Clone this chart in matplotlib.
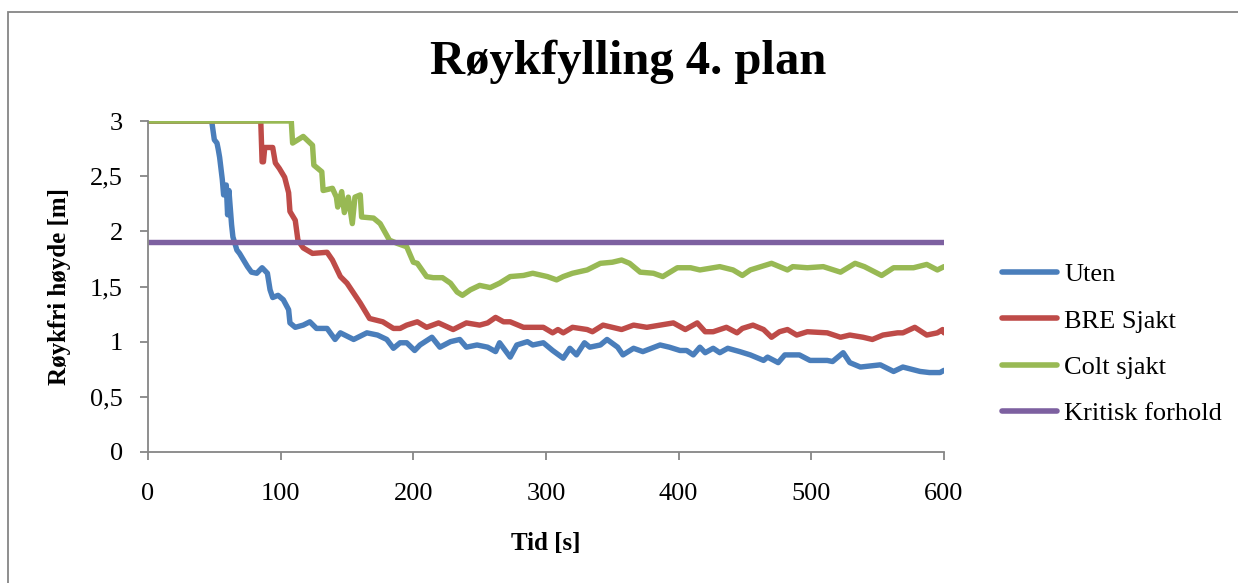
import matplotlib
matplotlib.use("Agg")
import matplotlib.pyplot as plt
from matplotlib.patches import Rectangle

# Smoke-free height [m] over time [s] for three cases, 4th floor
uten_t = [0, 48, 50, 52, 53, 54, 56, 57, 59, 60, 61, 63, 64, 67, 69, 72, 75, 78, 82, 86, 90,
          92, 94, 98, 102, 106, 107, 111, 117, 122, 127, 135, 141, 145, 155, 165, 173, 180,
          185, 190, 195, 201, 205, 214, 220, 228, 235, 240, 248, 256, 262, 265, 273, 278, 286,
          290, 298, 305, 313, 318, 323, 329, 333, 341, 346, 354, 358, 366, 373, 386, 393, 401,
          406, 411, 416, 420, 426, 431, 437, 446, 454, 464, 467, 475, 480, 491, 499, 512, 516,
          524, 529, 537, 552, 562, 569, 582, 589, 597, 600]
uten_h = [3.0, 3.0, 2.83, 2.80, 2.74, 2.67, 2.47, 2.33, 2.42, 2.15, 2.37, 2.06, 1.95, 1.83, 1.80,
          1.74, 1.68, 1.63, 1.62, 1.67, 1.62, 1.47, 1.40, 1.42, 1.38, 1.29, 1.17, 1.13, 1.15, 1.18,
          1.12, 1.12, 1.02, 1.08, 1.02, 1.08, 1.06, 1.02, 0.94, 0.99, 0.99, 0.92, 0.97, 1.04, 0.95,
          1.00, 1.02, 0.95, 0.97, 0.95, 0.91, 0.99, 0.86, 0.97, 1.00, 0.97, 0.99, 0.92, 0.85, 0.94,
          0.88, 0.99, 0.95, 0.97, 1.02, 0.95, 0.88, 0.94, 0.91, 0.97, 0.95, 0.92, 0.92, 0.88, 0.95,
          0.90, 0.94, 0.90, 0.94, 0.91, 0.88, 0.83, 0.86, 0.81, 0.88, 0.88, 0.83, 0.83, 0.82, 0.90,
          0.81, 0.77, 0.79, 0.73, 0.77, 0.73, 0.72, 0.72, 0.74]

bre_t = [0, 85, 86, 87, 88, 94, 96, 99, 103, 106, 107, 111, 113, 117, 124, 135, 139, 145, 150,
         155, 160, 167, 177, 185, 190, 195, 203, 210, 219, 230, 240, 250, 256, 262, 268, 273, 283,
         290, 298, 305, 309, 313, 320, 331, 335, 343, 350, 357, 366, 376, 386, 396, 405, 414, 420,
         426, 436, 444, 448, 456, 464, 470, 476, 482, 489, 497, 512, 522, 529, 539, 546, 554, 565,
         569, 578, 587, 595, 599, 600]
bre_h = [3.0, 3.0, 2.63, 2.63, 2.76, 2.76, 2.62, 2.57, 2.49, 2.35, 2.18, 2.10, 1.92, 1.85, 1.80,
         1.81, 1.74, 1.59, 1.53, 1.44, 1.35, 1.21, 1.18, 1.12, 1.12, 1.15, 1.18, 1.13, 1.17, 1.11,
         1.17, 1.15, 1.17, 1.22, 1.18, 1.18, 1.13, 1.13, 1.13, 1.08, 1.11, 1.08, 1.13, 1.11, 1.09,
         1.15, 1.13, 1.11, 1.15, 1.13, 1.15, 1.17, 1.11, 1.17, 1.09, 1.09, 1.13, 1.08, 1.12, 1.15,
         1.11, 1.04, 1.09, 1.11, 1.06, 1.09, 1.08, 1.04, 1.06, 1.04, 1.02, 1.06, 1.08, 1.08, 1.13,
         1.06, 1.08, 1.11, 1.08]

colt_t = [0, 108, 109, 117, 124, 125, 131, 132, 139, 142, 143, 146, 148, 151, 154, 156, 160, 161,
          170, 175, 182, 188, 195, 200, 203, 210, 215, 222, 228, 233, 237, 243, 250, 258, 265, 273,
          283, 290, 301, 308, 313, 320, 331, 341, 350, 357, 363, 371, 381, 388, 399, 409, 416, 431,
          441, 448, 454, 470, 482, 486, 497, 509, 522, 533, 540, 553, 562, 577, 587, 595, 600]
colt_h = [3.0, 3.0, 2.80, 2.86, 2.78, 2.60, 2.54, 2.37, 2.39, 2.31, 2.22, 2.36, 2.17, 2.31, 2.07,
          2.31, 2.33, 2.13, 2.12, 2.07, 1.92, 1.89, 1.86, 1.72, 1.71, 1.59, 1.58, 1.58, 1.53, 1.45,
          1.42, 1.47, 1.51, 1.49, 1.53, 1.59, 1.60, 1.62, 1.59, 1.56, 1.59, 1.62, 1.65, 1.71, 1.72,
          1.74, 1.71, 1.63, 1.62, 1.59, 1.67, 1.67, 1.65, 1.68, 1.65, 1.60, 1.65, 1.71, 1.65, 1.68,
          1.67, 1.68, 1.63, 1.71, 1.68, 1.60, 1.67, 1.67, 1.70, 1.65, 1.68]

kritisk_t = [0, 600]
kritisk_h = [1.9, 1.9]

series_labels = ["Uten", "BRE Sjakt", "Colt sjakt", "Kritisk forhold"]
series_colors = ["#4A7EBB", "#BE4B48", "#98B954", "#7D60A0"]

x_ticks = [0, 100, 200, 300, 400, 500, 600]
y_ticks = [0, 0.5, 1, 1.5, 2, 2.5, 3]
y_tick_labels = ["0", "0,5", "1", "1,5", "2", "2,5", "3"]

plt.rcParams["font.family"] = ["Liberation Serif", "DejaVu Serif"]

W, H = 1238, 583
fig = plt.figure(figsize=(W / 100, H / 100), dpi=100)
fig.patch.set_facecolor("white")

# chart border
fig.patches.append(Rectangle((8 / W, -0.05), 1.2, 1 - 12 / H + 0.05, transform=fig.transFigure,
                             fill=False, edgecolor="#868686", linewidth=1.3))

left, right, top, bottom = 148, 944, 121, 452
ax = fig.add_axes([left / W, 1 - bottom / H, (right - left) / W, (bottom - top) / H])

lw = 3.9
ax.plot(uten_t, uten_h, color=series_colors[0], lw=lw, label=series_labels[0],
        solid_joinstyle="round", solid_capstyle="round")
ax.plot(bre_t, bre_h, color=series_colors[1], lw=lw, label=series_labels[1],
        solid_joinstyle="round", solid_capstyle="round")
ax.plot(colt_t, colt_h, color=series_colors[2], lw=lw, label=series_labels[2],
        solid_joinstyle="round", solid_capstyle="round")
ax.plot(kritisk_t, kritisk_h, color=series_colors[3], lw=lw, label=series_labels[3],
        solid_capstyle="butt")

ax.set_xlim(0, 600)
ax.set_ylim(0, 3)
ax.set_xticks(x_ticks)
ax.set_yticks(y_ticks)
ax.set_yticklabels(y_tick_labels)

for s in ["top", "right"]:
    ax.spines[s].set_visible(False)
for s in ["left", "bottom"]:
    ax.spines[s].set_color("#868686")
    ax.spines[s].set_linewidth(1.3)
ax.tick_params(axis="both", direction="out", length=6, width=1.3, color="#868686",
               labelsize=19, labelcolor="black")
ax.tick_params(axis="x", pad=16)
ax.tick_params(axis="y", pad=12)

ax.set_xlabel("Tid [s]", fontsize=18, fontweight="bold", labelpad=20)
ax.set_ylabel("Røykfri høyde [m]", fontsize=18, fontweight="bold", labelpad=14)

fig.text(628 / W, 1 - 62 / H, "Røykfylling 4. plan", ha="center", va="center",
         fontsize=35, fontweight="bold")

leg = fig.legend(loc="upper left", bbox_to_anchor=(1002 / W, 1 - 263 / H), frameon=False,
                 fontsize=19, handlelength=2.1, handletextpad=0.25, labelspacing=0.86,
                 borderaxespad=0, borderpad=0)
for line in leg.get_lines():
    line.set_linewidth(4)
    line.set_solid_capstyle("round")

fig.savefig("out.png", dpi=100)
